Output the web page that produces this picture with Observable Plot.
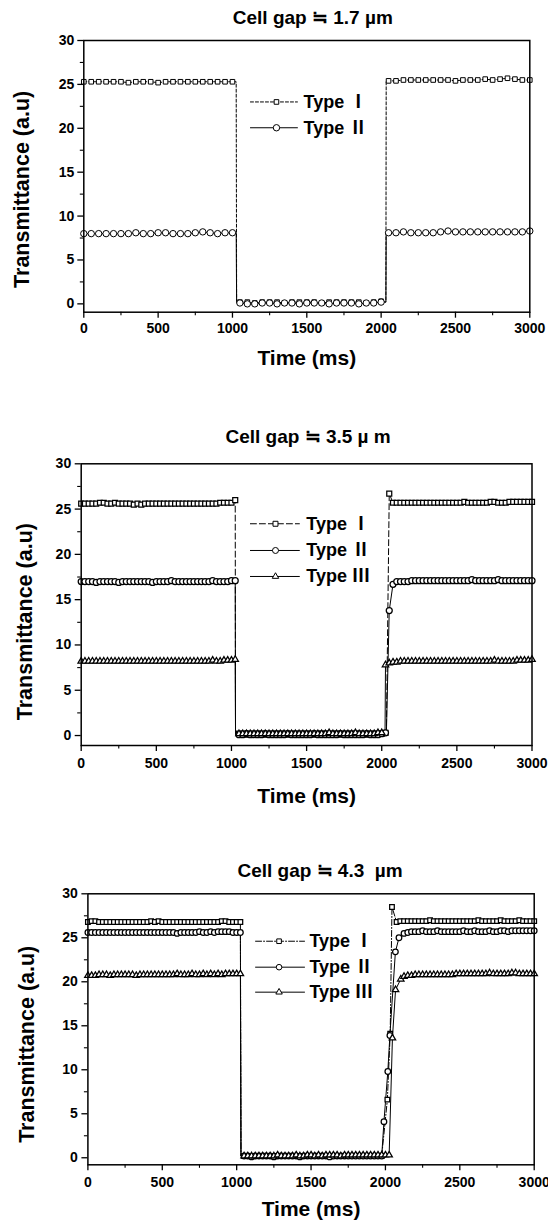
<!DOCTYPE html>
<html><head><meta charset="utf-8">
<script src="https://cdn.jsdelivr.net/npm/d3@7"></script>
<script src="https://cdn.jsdelivr.net/npm/@observablehq/plot@0.6"></script>
<style>
html,body{margin:0;padding:0;background:#fff}
body{width:548px;height:1223px;position:relative;overflow:hidden}
.panel{position:absolute;left:0}
.panel svg{display:block}
</style></head><body>
<div id="p1" class="panel" style="top:0px"></div>
<div id="p2" class="panel" style="top:410px"></div>
<div id="p3" class="panel" style="top:820px"></div>
<script>
// ---------------- data ----------------
const xTicks = [0, 500, 1000, 1500, 2000, 2500, 3000];
const xMinorTicks = [250, 750, 1250, 1750, 2250, 2750];
const yTicks = [0, 5, 10, 15, 20, 25, 30];
const yMinorTicks = [2.5, 7.5, 12.5, 17.5, 22.5, 27.5];
const typeNames = ["Type Ⅰ", "Type Ⅱ", "Type Ⅲ"];
const titles = ["Cell gap ≒ 1.7 µm", "Cell gap ≒ 3.5 µ m", "Cell gap ≒ 4.3\u00a0 µm"];
const xLabel = "Time (ms)";
const yLabel = "Transmittance (a.u)";

// Panel 1 (1.7 µm): symbols every 50 ms
const p1_I_hi1 = [25.3,25.3,25.3,25.3,25.3,25.3,25.2,25.3,25.3,25.3, 25.2,25.3,25.3,25.3,25.3,25.3,25.3,25.3,25.3,25.3, 25.3];
const p1_I_lo  = [0.2,0.2,0.1,0.2,0.2,0.2,0.1,0.2,0.2,0.2, 0.2,0.1,0.2,0.2,0.2,0.2,0.2,0.1,0.2,0.3];
const p1_I_hi2 = [25.4,25.4,25.5,25.5,25.5,25.5,25.5,25.5,25.5,25.4, 25.5,25.5,25.5,25.6,25.5,25.6,25.7,25.6,25.5,25.5];
const p1_I_edges = [[1025,25.3],[1028,0.2],[2032,0.2],[2034,25.4]];
const p1_II_hi1 = [8.0,8.0,8.0,8.0,8.0,8.0,8.0,8.1,8.0,8.0, 8.1,8.1,8.0,8.0,8.0,8.1,8.2,8.1,8.0,8.1, 8.1];
const p1_II_lo  = [0.1,0.0,0.0,0.1,0.1,0.0,0.1,0.1,0.0,0.1, 0.1,0.1,0.0,0.1,0.1,0.1,0.0,0.1,0.1,0.2];
const p1_II_hi2 = [8.1,8.1,8.2,8.1,8.1,8.1,8.1,8.2,8.3,8.2, 8.2,8.2,8.2,8.2,8.2,8.2,8.2,8.2,8.2,8.3];
const p1_II_edges = [[1025,8.1],[1028,0.1],[2032,0.2],[2034,8.1]];

// Panel 2 (3.5 µm): symbols every 25 ms
const p2_I_hi1 = [25.6,25.6,25.6,25.6,25.6,25.7,25.7,25.6,25.6,25.7, 25.6,25.6,25.6,25.6,25.5,25.6,25.5,25.6,25.6,25.6,
  25.6,25.6,25.6,25.6,25.6,25.6,25.6,25.6,25.6,25.6, 25.6,25.6,25.6,25.6,25.6,25.6,25.6,25.7,25.7,25.7, 25.7,26.0];
const p2_I_lo = [0.2,0.2,0.1,0.2,0.2,0.2,0.2,0.1,0.2,0.2, 0.2,0.2,0.2,0.1,0.2,0.2,0.2,0.2,0.2,0.2,
  0.1,0.2,0.2,0.2,0.2,0.2,0.2,0.1,0.2,0.2, 0.2,0.2,0.2,0.2,0.1,0.2,0.2,0.2,0.2];
const p2_I_hi2 = [0.3,26.7,25.7,25.7,25.7,25.7,25.7,25.7,25.7,25.7, 25.7,25.7,25.7,25.7,25.7,25.7,25.7,25.7,25.7,25.7,
  25.7,25.8,25.7,25.7,25.7,25.7,25.7,25.7,25.8,25.8, 25.7,25.7,25.7,25.8,25.8,25.8,25.8,25.8,25.8,25.8];
const p2_I_edges = [[1027,0.2],[2031,0.3]];
const p2_II_hi1 = [17.0,17.0,17.0,17.0,16.9,17.0,17.0,17.0,17.0,17.0, 16.9,17.0,17.0,17.0,17.0,17.0,17.0,17.0,17.0,16.9,
  17.0,17.0,17.0,17.0,17.1,17.0,17.0,17.0,17.0,17.0, 17.0,17.0,17.0,17.0,17.0,17.1,17.0,17.0,17.0,17.0, 17.1,17.1];
const p2_II_lo = [0.1,0.1,0.2,0.1,0.1,0.1,0.1,0.2,0.1,0.1, 0.1,0.1,0.1,0.2,0.1,0.1,0.1,0.1,0.1,0.1,
  0.2,0.1,0.1,0.1,0.1,0.1,0.1,0.2,0.1,0.1, 0.1,0.1,0.1,0.1,0.2,0.1,0.1,0.1,0.2];
const p2_II_hi2 = [0.3,13.8,16.7,17.0,17.0,17.0,17.0,17.1,17.1,17.1, 17.1,17.1,17.1,17.1,17.1,17.1,17.1,17.1,17.1,17.1,
  17.1,17.1,17.1,17.2,17.1,17.1,17.1,17.1,17.1,17.1, 17.2,17.1,17.1,17.1,17.1,17.1,17.1,17.1,17.1,17.1];
const p2_II_edges = [[1027,0.1],[2031,0.3]];
const p2_III_hi1 = [8.2,8.2,8.2,8.2,8.2,8.2,8.2,8.2,8.2,8.2, 8.2,8.2,8.2,8.2,8.2,8.2,8.2,8.2,8.2,8.2,
  8.2,8.2,8.2,8.2,8.2,8.2,8.2,8.2,8.2,8.2, 8.2,8.2,8.2,8.2,8.2,8.3,8.2,8.2,8.3,8.3, 8.3,8.4];
const p2_III_lo = [0.2,0.2,0.2,0.2,0.2,0.2,0.2,0.2,0.2,0.2, 0.2,0.2,0.2,0.2,0.2,0.2,0.2,0.2,0.2,0.2,
  0.2,0.2,0.2,0.2,0.3,0.2,0.2,0.2,0.2,0.2, 0.2,0.3,0.2,0.2,0.2,0.2,0.2,0.3,0.3];
const p2_III_hi2 = [7.8,8.0,8.1,8.1,8.2,8.2,8.2,8.2,8.2,8.2, 8.2,8.2,8.2,8.2,8.2,8.2,8.2,8.2,8.2,8.2,
  8.2,8.2,8.2,8.2,8.2,8.2,8.2,8.2,8.2,8.3, 8.2,8.2,8.2,8.2,8.2,8.3,8.3,8.3,8.3,8.4];
const p2_III_edges = [[1027,0.2],[2022,0.3]];

// Panel 3 (4.3 µm): symbols every 25 ms, rise points read individually
const p3_I_hi1 = [26.8,26.9,26.9,26.8,26.8,26.8,26.8,26.8,26.8,26.8, 26.8,26.8,26.8,26.8,26.8,26.8,26.8,26.9,26.8,26.9,
  26.8,26.8,26.8,26.8,26.8,26.8,26.8,26.8,26.8,26.8, 26.8,26.8,26.8,26.8,26.8,26.8,26.9,26.9,26.8,26.8, 26.8,26.8];
const p3_I_lo = [0.2,0.2,0.2,0.2,0.2,0.2,0.2,0.2,0.2,0.2, 0.2,0.2,0.2,0.2,0.2,0.2,0.2,0.2,0.2,0.2,
  0.2,0.2,0.2,0.2,0.2,0.2,0.2,0.2,0.2,0.2, 0.2,0.2,0.2,0.2,0.2,0.2,0.2,0.2];
const p3_I_rise = [[2013,6.6],[2032,14.1],[2044,28.5]];
const p3_I_edges = [[1029,0.2]];
const p3_I_hi2 = [26.8,26.9,26.9,26.9,26.9,26.9,26.9,26.9,26.9,27.0, 26.9,26.9,26.9,26.9,26.9,26.9,26.9,26.9,26.9,26.9,
  26.9,26.9,27.0,26.9,26.9,26.9,26.9,26.9,27.0,26.9, 26.9,26.9,26.9,27.0,26.9,26.9,26.9,26.9];
const p3_II_hi1 = [25.6,25.6,25.6,25.6,25.6,25.6,25.6,25.6,25.6,25.6, 25.6,25.6,25.6,25.6,25.6,25.6,25.6,25.6,25.6,25.6,
  25.6,25.6,25.6,25.6,25.5,25.6,25.6,25.6,25.6,25.6, 25.7,25.6,25.6,25.7,25.6,25.7,25.7,25.7,25.7,25.6, 25.6,25.6];
const p3_II_lo = [0.2,0.2,0.1,0.2,0.2,0.2,0.2,0.2,0.1,0.2, 0.2,0.2,0.2,0.2,0.2,0.1,0.2,0.2,0.2,0.2,
  0.2,0.2,0.2,0.1,0.2,0.2,0.2,0.2,0.2,0.2, 0.2,0.2,0.2,0.2,0.2,0.2,0.2,0.2];
const p3_II_rise = [[1990,4.1],[2016,9.8],[2030,13.9],[2067,23.4],[2091,25.0]];
const p3_II_edges = [[1029,0.2]];
const p3_II_hi2 = [25.5,25.6,25.7,25.7,25.7,25.8,25.7,25.7,25.7,25.8, 25.7,25.7,25.7,25.7,25.7,25.7,25.8,25.7,25.7,25.8,
  25.7,25.7,25.7,25.8,25.7,25.7,25.8,25.8,25.7,25.8, 25.8,25.8,25.8,25.8,25.8,25.8];
const p3_III_hi1 = [20.7,20.7,20.7,20.8,20.8,20.8,20.7,20.8,20.8,20.8, 20.8,20.8,20.8,20.7,20.8,20.8,20.8,20.8,20.8,20.8,
  20.8,20.8,20.8,20.8,20.9,20.8,20.8,20.8,20.9,20.8, 20.8,20.9,20.8,20.9,20.8,20.9,20.8,20.9,20.9,20.9, 20.9,20.9];
const p3_III_lo = [0.2,0.2,0.2,0.2,0.2,0.2,0.2,0.2,0.2,0.3, 0.2,0.2,0.2,0.2,0.3,0.2,0.2,0.3,0.3,0.2,
  0.3,0.2,0.3,0.3,0.3,0.3,0.2,0.3,0.3,0.3, 0.3,0.3,0.3,0.3,0.3,0.3,0.3,0.3,0.3,0.3];
const p3_III_rise = [[2047,13.6],[2068,19.1],[2103,20.3]];
const p3_III_edges = [[1029,0.2]];
const p3_III_hi2 = [20.6,20.7,20.7,20.8,20.8,20.8,20.8,20.8,20.8,20.8, 20.8,20.8,20.8,20.8,20.9,20.9,20.9,20.9,20.9,20.9,
  20.9,20.9,20.9,21.0,20.9,20.9,20.9,20.9,20.9,21.0, 21.0,20.9,20.9,20.9,20.9,20.9];

// ---------------- helpers ----------------
const grid = (t0, dt, values) => values.map((v, i) => ({t: t0 + i * dt, v}));
const pairs = (list) => list.map(([t, v]) => ({t, v}));
const FONT = '"Liberation Sans", Arial, "Noto Sans CJK KR", sans-serif';

const panels = [
  {
    el: "p1", height: 390, marginTop: 40, marginBottom: 78.3, marginLeft: 83.3, marginRight: 18.7, yMin: -0.95,
    title: titles[0], titleDx: 6, titleDy: -23, xPad: 5, yPad: 3.5, xLabelDy: 45.6, yLabelDx: -61.6, yLabelDy: 13,
    msw: 1, legend: {x1: 1121, x2: 1437, xm: 1296, xt: 1478, rows: [23.0, 20.06]},
    series: [
      {symbol: "square", r: 2.6, dash: "3,2",
       markers: [...grid(0, 50, p1_I_hi1), ...grid(1050, 50, p1_I_lo), ...grid(2050, 50, p1_I_hi2)], extra: pairs(p1_I_edges)},
      {symbol: "circle", r: 3.2, dash: null,
       markers: [...grid(0, 50, p1_II_hi1), ...grid(1050, 50, p1_II_lo), ...grid(2050, 50, p1_II_hi2)], extra: pairs(p1_II_edges)}
    ]
  },
  {
    el: "p2", height: 410, marginTop: 53.3, marginBottom: 75, marginLeft: 80.7, marginRight: 16.5, yMin: -1.1,
    title: titles[1], titleDx: 1.5, titleDy: -27, xPad: 7, yPad: 4, xLabelDy: 50.3, yLabelDx: -56.2, yLabelDy: 17,
    msw: 1.25, legend: {x1: 1126, x2: 1452, xm: 1293, xt: 1498, rows: [23.38, 20.43, 17.56]},
    series: [
      {symbol: "square", r: 2.8, dash: "6,3",
       markers: [...grid(0, 25, p2_I_hi1), ...grid(1050, 25, p2_I_lo), ...grid(2025, 25, p2_I_hi2)], extra: pairs(p2_I_edges)},
      {symbol: "circle", r: 3, dash: null,
       markers: [...grid(0, 25, p2_II_hi1), ...grid(1050, 25, p2_II_lo), ...grid(2025, 25, p2_II_hi2)], extra: pairs(p2_II_edges)},
      {symbol: "triangle", r: 2.4, dash: null,
       markers: [...grid(0, 25, p2_III_hi1), ...grid(1050, 25, p2_III_lo), ...grid(2025, 25, p2_III_hi2)], extra: pairs(p2_III_edges)}
    ]
  },
  {
    el: "p3", height: 403, marginTop: 73.3, marginBottom: 58.7, marginLeft: 87.4, marginRight: 14.3, yMin: -0.8,
    title: titles[2], titleDx: 9, titleDy: -22.7, xPad: 6.5, yPad: 4, xLabelDy: 44, yLabelDx: -61.2, yLabelDy: 15,
    msw: 1.25, legend: {x1: 1127, x2: 1456, xm: 1285, xt: 1489, rows: [24.61, 21.66, 18.82]},
    series: [
      {symbol: "square", r: 2.6, dash: "6,2,1,2",
       markers: [...grid(0, 25, p3_I_hi1), ...grid(1050, 25, p3_I_lo), ...pairs(p3_I_rise), ...grid(2075, 25, p3_I_hi2)], extra: pairs(p3_I_edges)},
      {symbol: "circle", r: 2.8, dash: null,
       markers: [...grid(0, 25, p3_II_hi1), ...grid(1050, 25, p3_II_lo), ...pairs(p3_II_rise), ...grid(2125, 25, p3_II_hi2)], extra: pairs(p3_II_edges)},
      {symbol: "triangle", r: 2.4, dash: null,
       markers: [...grid(0, 25, p3_III_hi1), ...grid(1050, 25, p3_III_lo), ...pairs(p3_III_rise), ...grid(2125, 25, p3_III_hi2)], extra: pairs(p3_III_edges)}
    ]
  }
];

function draw(p) {
  const marks = [];
  // axes (major + minor ticks, outward)
  marks.push(Plot.axisX({ticks: xTicks, tickSize: 6, tickPadding: p.xPad, tickFormat: d => String(d),
    fontSize: 14, fontWeight: "bold", strokeWidth: 1.3, label: null}));
  marks.push(Plot.axisX({ticks: xMinorTicks, tickSize: 3.5, fill: "none", strokeWidth: 1.1, label: null}));
  marks.push(Plot.axisY({ticks: yTicks, tickSize: 6, tickPadding: p.yPad, tickFormat: d => String(d),
    fontSize: 14, fontWeight: "bold", strokeWidth: 1.3, label: null}));
  marks.push(Plot.axisY({ticks: yMinorTicks, tickSize: 3.5, fill: "none", strokeWidth: 1.1, label: null}));
  // series
  p.series.forEach(s => {
    const lineData = s.markers.concat(s.extra).sort((a, b) => a.t - b.t);
    marks.push(Plot.line(lineData, {x: "t", y: "v", stroke: "#000", strokeWidth: 1, strokeDasharray: s.dash}));
  });
  p.series.forEach(s => {
    marks.push(Plot.dot(s.markers, {x: "t", y: "v", symbol: s.symbol, r: s.r, stroke: "#000", fill: "#fff", strokeWidth: p.msw}));
  });
  // legend
  p.series.forEach((s, i) => {
    const ry = p.legend.rows[i];
    marks.push(Plot.line([{t: p.legend.x1, v: ry}, {t: p.legend.x2, v: ry}], {x: "t", y: "v", stroke: "#000", strokeWidth: 1, strokeDasharray: s.dash}));
    marks.push(Plot.dot([{t: p.legend.xm, v: ry}], {x: "t", y: "v", symbol: s.symbol, r: s.r, stroke: "#000", fill: "#fff", strokeWidth: 1}));
    marks.push(Plot.text([typeNames[i]], {x: p.legend.xt, y: ry, text: d => d, textAnchor: "start", lineAnchor: "middle",
      fontSize: 18, fontWeight: "bold", fill: "#000"}));
  });
  // frame
  marks.push(Plot.frame({stroke: "#000", strokeWidth: 1.5}));
  // title and axis labels
  marks.push(Plot.text([p.title], {frameAnchor: "top", text: d => d, dx: p.titleDx, dy: p.titleDy, lineAnchor: "middle",
    textAnchor: "middle", fontSize: 19, fontWeight: "bold", fill: "#000"}));
  marks.push(Plot.text([xLabel], {frameAnchor: "bottom", text: d => d, dy: p.xLabelDy, lineAnchor: "middle",
    textAnchor: "middle", fontSize: 21, fontWeight: "bold", fill: "#000"}));
  marks.push(Plot.text([yLabel], {frameAnchor: "left", text: d => d, rotate: -90, dx: p.yLabelDx, dy: p.yLabelDy,
    lineAnchor: "middle", textAnchor: "middle", fontSize: 21.5, fontWeight: "bold", fill: "#000"}));

  const chart = Plot.plot({
    width: 548, height: p.height,
    marginTop: p.marginTop, marginBottom: p.marginBottom, marginLeft: p.marginLeft, marginRight: p.marginRight,
    x: {domain: [0, 3000], label: null},
    y: {domain: [p.yMin, 30], label: null},
    style: {fontFamily: FONT, background: "#fff", color: "#000", overflow: "visible"},
    marks
  });
  document.getElementById(p.el).appendChild(chart);
}
panels.forEach(draw);
</script>
</body></html>
